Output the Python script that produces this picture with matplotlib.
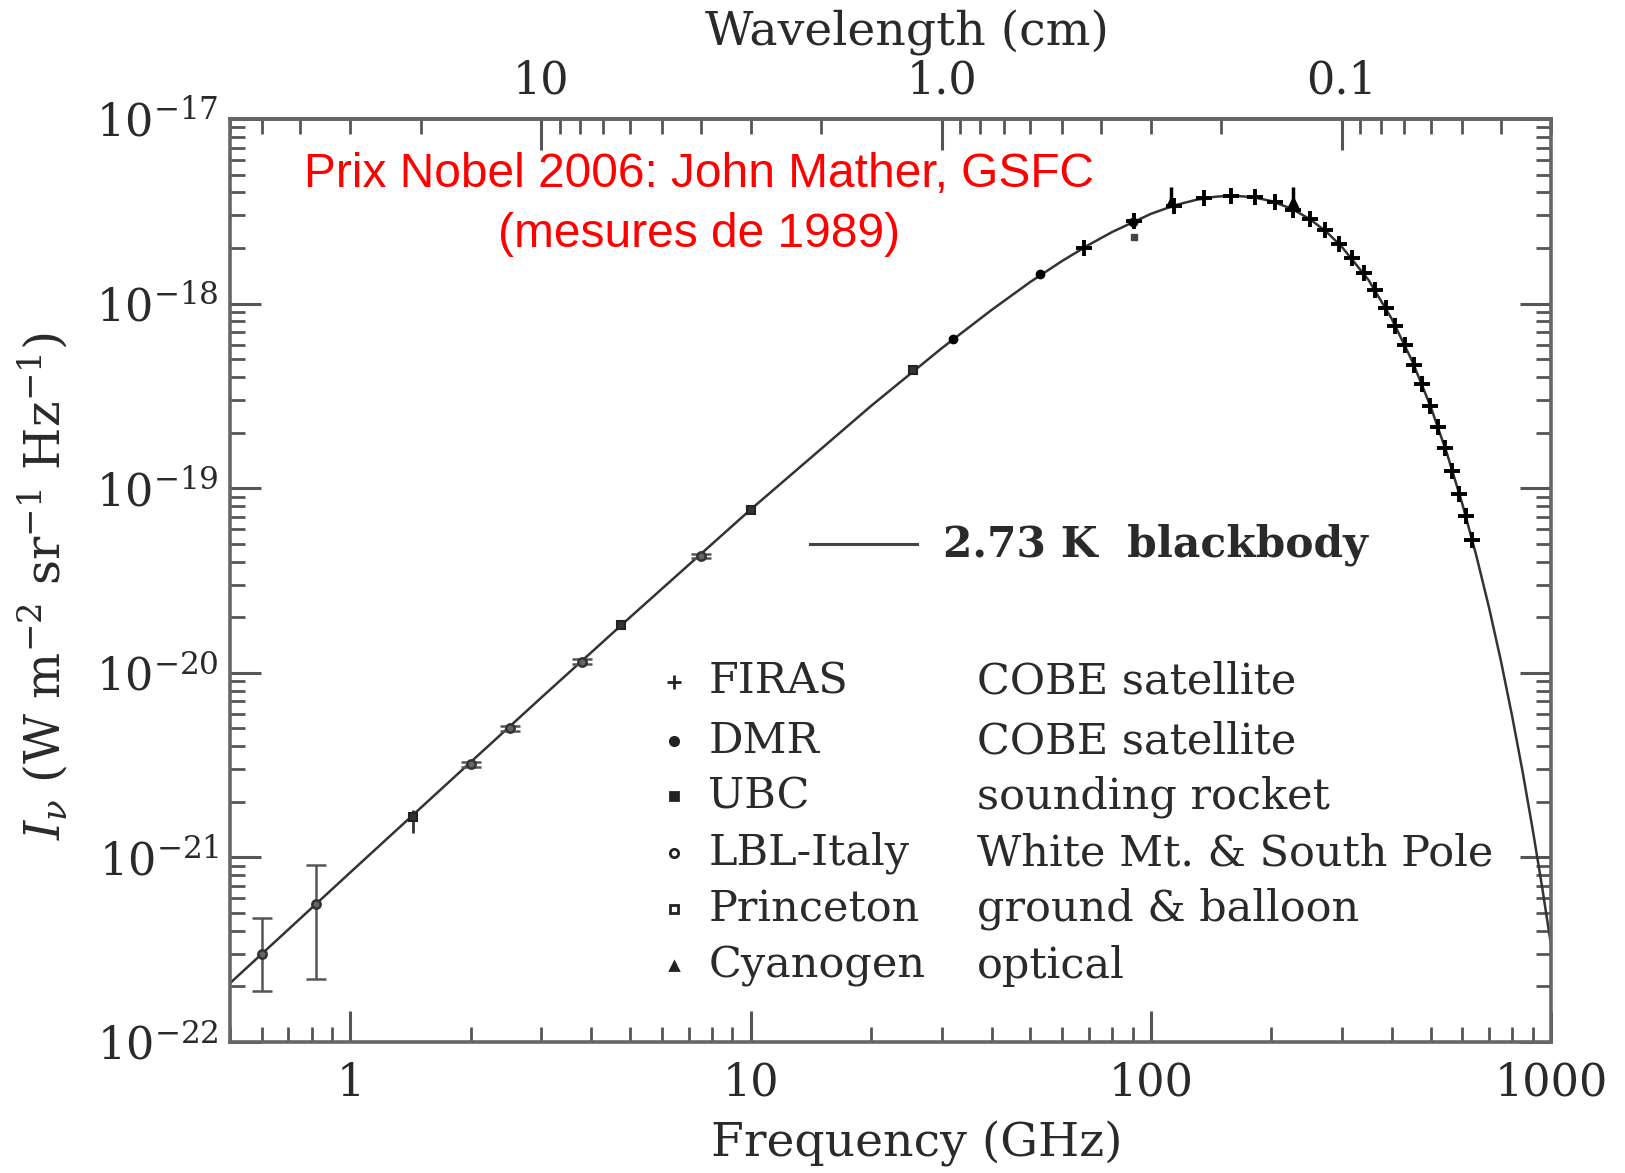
import matplotlib
matplotlib.use("Agg")
import matplotlib.pyplot as plt
from matplotlib.ticker import FixedLocator, FixedFormatter, LogLocator, NullFormatter

plt.rcParams["font.family"] = ["DejaVu Serif"]
plt.rcParams["mathtext.fontset"] = "dejavuserif"

# 2.73 K blackbody curve (GHz, W m^-2 sr^-1 Hz^-1)
curve_freq = [0.5, 1, 2, 3, 5, 10, 20, 30, 40, 50, 60, 70, 80, 100, 115, 130,
              145, 160, 180, 200, 225, 250, 275, 300, 350, 400, 450, 500, 550,
              600, 650, 700, 750, 800, 850, 900, 950, 1000]
curve_int = [2.08e-22, 8.30e-22, 3.29e-21, 7.34e-21, 2.00e-20, 7.66e-20,
             2.79e-19, 5.72e-19, 9.23e-19, 1.31e-18, 1.70e-18, 2.08e-18,
             2.44e-18, 3.06e-18, 3.41e-18, 3.65e-18, 3.79e-18, 3.84e-18,
             3.77e-18, 3.59e-18, 3.26e-18, 2.86e-18, 2.44e-18, 2.03e-18,
             1.34e-18, 8.25e-19, 4.87e-19, 2.77e-19, 1.53e-19, 8.23e-20,
             4.34e-20, 2.25e-20, 1.15e-20, 5.77e-21, 2.87e-21, 1.41e-21,
             6.89e-22, 3.34e-22]

# FIRAS (COBE satellite)
firas_freq = [68, 91, 114, 136, 159, 182, 204, 227, 250, 272, 295, 318, 340,
              363, 386, 408, 431, 454, 476, 499, 522, 544, 567, 590, 612, 635]
firas_int = [2.01e-18, 2.80e-18, 3.39e-18, 3.72e-18, 3.84e-18, 3.76e-18,
             3.55e-18, 3.23e-18, 2.86e-18, 2.49e-18, 2.11e-18, 1.76e-18,
             1.46e-18, 1.18e-18, 9.49e-19, 7.60e-19, 5.98e-19, 4.66e-19,
             3.65e-19, 2.80e-19, 2.14e-19, 1.64e-19, 1.24e-19, 9.33e-20,
             7.07e-20, 5.27e-20]

# DMR (COBE satellite)
dmr_freq = [32, 53, 90]
dmr_int = [6.4e-19, 1.45e-18, 2.78e-18]

# UBC (sounding rocket)
ubc_freq = [91]
ubc_int = [2.3e-18]

# LBL-Italy (White Mt. & South Pole)
lbl_freq = [0.6, 0.82, 2.0, 2.5, 3.8, 7.5]
lbl_int = [3.0e-22, 5.6e-22, 3.2e-21, 5.0e-21, 1.15e-20, 4.3e-20]
lbl_low = [1.9e-22, 2.2e-22, 3.1e-21, 4.85e-21, 1.12e-20, 4.2e-20]
lbl_high = [4.7e-22, 9.1e-22, 3.3e-21, 5.15e-21, 1.18e-20, 4.4e-20]

# Princeton (ground & balloon)
prin_freq = [1.43, 4.75, 10, 25.5]
prin_int = [1.65e-21, 1.82e-20, 7.6e-20, 4.35e-19]
prin_low = [1.35e-21, 1.78e-20, 7.4e-20, 4.25e-19]
prin_high = [1.80e-21, 1.86e-20, 7.8e-20, 4.45e-19]

# Cyanogen (optical)
cyan_freq = [112, 227]
cyan_int = [3.55e-18, 3.55e-18]
cyan_high = [4.3e-18, 4.3e-18]

legend_names = ["FIRAS", "DMR", "UBC", "LBL-Italy", "Princeton", "Cyanogen"]
legend_desc = ["COBE satellite", "COBE satellite", "sounding rocket",
               "White Mt. & South Pole", "ground & balloon", "optical"]
legend_markers = ["+", "o", "s", "o", "s", "^"]
legend_fill = [True, True, True, False, False, True]

x_ticks = [1, 10, 100, 1000]
x_labels = ["1", "10", "100", "1000"]
y_ticks = [1e-22, 1e-21, 1e-20, 1e-19, 1e-18, 1e-17]
y_labels = ["$10^{-22}$", "$10^{-21}$", "$10^{-20}$", "$10^{-19}$",
            "$10^{-18}$", "$10^{-17}$"]
top_ticks = [10, 1.0, 0.1]
top_labels = ["10", "1.0", "0.1"]

ink = "#2a2a2a"
fig = plt.figure(figsize=(16.25, 11.73), dpi=100)
ax = fig.add_axes([0.1415, 0.1117, 0.813, 0.7869])

ax.plot(curve_freq, curve_int, color="#333333", lw=1.8, zorder=2)
ax.plot(firas_freq, firas_int, ls="none", marker="+", ms=12, mew=2.8,
        color="black", zorder=3)
ax.plot(dmr_freq, dmr_int, ls="none", marker="o", ms=6, color="black", zorder=3)
ax.plot(ubc_freq, ubc_int, ls="none", marker="s", ms=4, color="#444444", zorder=3)
ax.errorbar(lbl_freq, lbl_int,
            yerr=[[v - lo for v, lo in zip(lbl_int, lbl_low)],
                  [hi - v for v, hi in zip(lbl_int, lbl_high)]],
            ls="none", marker="o", ms=6, mfc="#666666", mec="#333333", mew=1.8,
            ecolor="#555555", elinewidth=1.8, capsize=7, zorder=3)
ax.errorbar(prin_freq, prin_int,
            yerr=[[v - lo for v, lo in zip(prin_int, prin_low)],
                  [hi - v for v, hi in zip(prin_int, prin_high)]],
            ls="none", marker="s", ms=6, mfc="#333333", mec="#222222", mew=1.5,
            ecolor="#333333", elinewidth=2, capsize=0, zorder=3)
ax.errorbar(cyan_freq, cyan_int,
            yerr=[[0 for v in cyan_int], [hi - v for v, hi in zip(cyan_int, cyan_high)]],
            ls="none", marker="^", ms=7, color="black", elinewidth=2.5,
            capsize=0, zorder=3)

ax.set_xscale("log")
ax.set_yscale("log")
ax.set_xlim(0.5, 1000)
ax.set_ylim(1e-22, 1e-17)

ax.xaxis.set_major_locator(FixedLocator(x_ticks))
ax.xaxis.set_major_formatter(FixedFormatter(x_labels))
ax.xaxis.set_minor_locator(LogLocator(base=10, subs=range(2, 10), numticks=20))
ax.xaxis.set_minor_formatter(NullFormatter())
ax.yaxis.set_major_locator(FixedLocator(y_ticks))
ax.yaxis.set_major_formatter(FixedFormatter(y_labels))
ax.yaxis.set_minor_locator(LogLocator(base=10, subs=range(2, 10), numticks=20))
ax.yaxis.set_minor_formatter(NullFormatter())

for s in ax.spines.values():
    s.set_linewidth(2.6)
    s.set_color("#666666")

ax.tick_params(which="both", direction="in", right=True, top=False,
               color="#555555", labelcolor=ink, labelsize=32)
ax.tick_params(which="major", length=22, width=2.2)
ax.tick_params(which="minor", length=11, width=2.0)
ax.tick_params(axis="x", which="major", pad=14)
ax.tick_params(axis="y", which="major", pad=8)

secax = ax.secondary_xaxis("top", functions=(lambda f: 30.0 / f, lambda w: 30.0 / w))
secax.xaxis.set_major_locator(FixedLocator(top_ticks))
secax.xaxis.set_major_formatter(FixedFormatter(top_labels))
secax.xaxis.set_minor_locator(LogLocator(base=10, subs=range(2, 10), numticks=20))
secax.xaxis.set_minor_formatter(NullFormatter())
secax.tick_params(which="both", direction="in", color="#555555",
                  labelcolor=ink, labelsize=32)
secax.tick_params(which="major", length=22, width=2.2, pad=12)
secax.tick_params(which="minor", length=11, width=2.0)
secax.spines["top"].set_linewidth(2.6)
secax.spines["top"].set_color("#666666")
fig.text(0.558, 0.972, "Wavelength (cm)", ha="center", va="center",
         fontsize=34, color=ink)

ax.set_xlabel("Frequency (GHz)", fontsize=34, color=ink)
ax.xaxis.set_label_coords(0.52, -0.085)
ax.set_ylabel(r"$I_\nu$ (W m$^{-2}$ sr$^{-1}$ Hz$^{-1}$)", fontsize=35, color=ink)
ax.yaxis.set_label_coords(-0.121, 0.494)

# annotation in red
ax.text(0.355, 0.940, "Prix Nobel 2006: John Mather, GSFC", transform=ax.transAxes,
        ha="center", va="center", color="red", fontsize=34.5,
        family=["Liberation Sans", "DejaVu Sans"])
ax.text(0.355, 0.875, "(mesures de 1989)", transform=ax.transAxes,
        ha="center", va="center", color="red", fontsize=34.5,
        family=["Liberation Sans", "DejaVu Sans"])

# blackbody key
ax.plot([0.439, 0.520], [0.539, 0.539], transform=ax.transAxes,
        color="#444444", lw=2.2)
ax.text(0.540, 0.539, "2.73 K  blackbody", transform=ax.transAxes,
        ha="left", va="center", fontsize=30.5, color=ink, fontweight="bold")

# data set key
row_y = [0.390, 0.326, 0.266, 0.2045, 0.144, 0.082]
for yy, name, desc, mk, filled in zip(row_y, legend_names, legend_desc,
                                      legend_markers, legend_fill):
    ax.plot([0.336], [yy], transform=ax.transAxes, marker=mk,
            ms=10 if mk == "+" else 6, mew=2,
            mfc="#222222" if filled else "white", mec="#222222", ls="none")
    ax.text(0.362, yy, name, transform=ax.transAxes, ha="left", va="center",
            fontsize=31, color=ink)
    ax.text(0.5655, yy, desc, transform=ax.transAxes, ha="left", va="center",
            fontsize=31, color=ink)

fig.savefig("out.png", dpi=100)
